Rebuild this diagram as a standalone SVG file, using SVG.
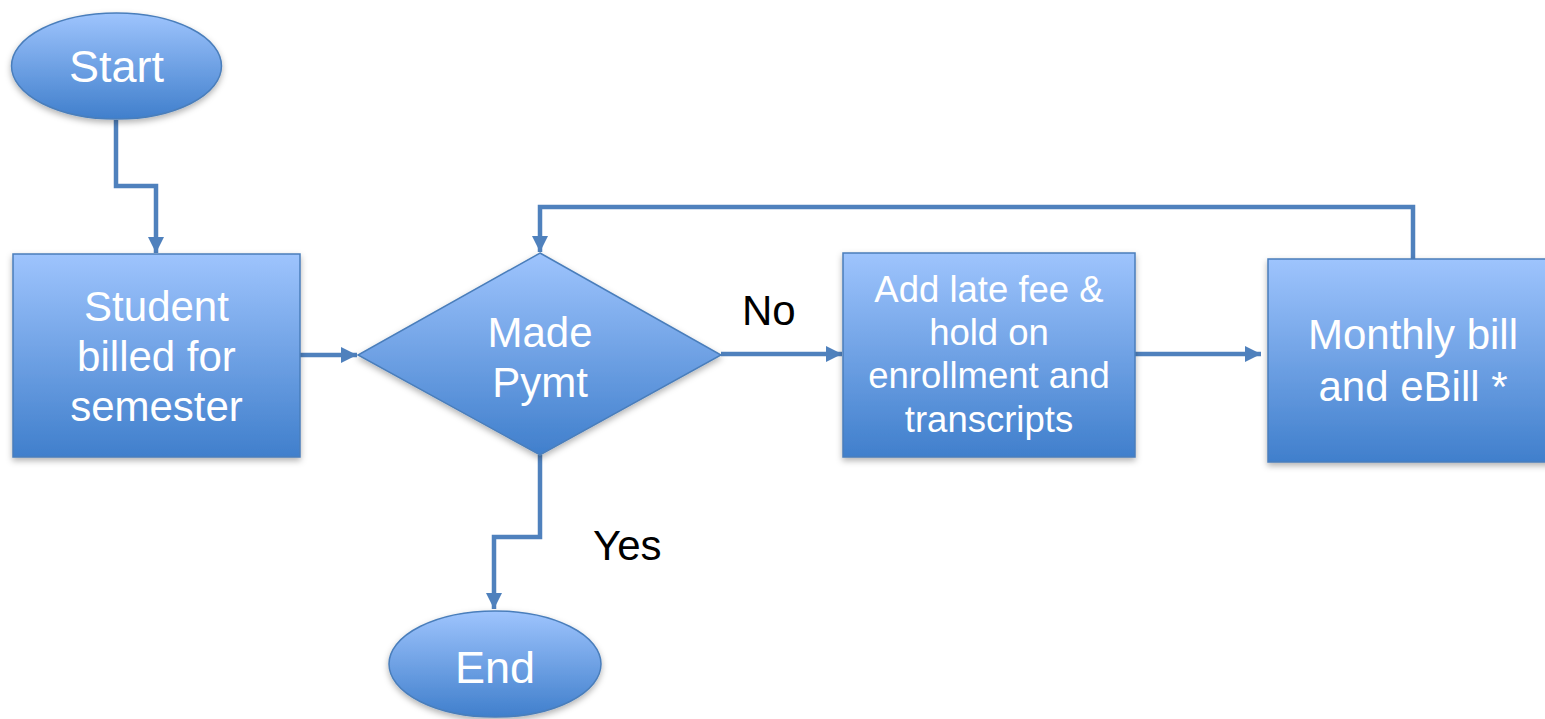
<svg xmlns="http://www.w3.org/2000/svg" width="1545" height="719" viewBox="0 0 1545 719">
<defs>
<linearGradient id="g" x1="0" y1="0" x2="0" y2="1">
<stop offset="0" stop-color="#9EC4FD"/>
<stop offset="1" stop-color="#407FCC"/>
</linearGradient>
<filter id="sh" x="-10%" y="-10%" width="125%" height="130%">
<feDropShadow dx="0" dy="3" stdDeviation="3" flood-color="#000" flood-opacity="0.3"/>
</filter>
<marker id="arr" viewBox="0 0 10 10" refX="10" refY="5" markerWidth="3.6" markerHeight="3.6" orient="auto" markerUnits="strokeWidth">
<path d="M0,0 L10,5 L0,10 Z" fill="#4F81BD"/>
</marker>
<style>
.shape{fill:url(#g);stroke:#4A7EBB;stroke-width:1.5;filter:url(#sh)}
.t{font-family:"Liberation Sans",Arial,sans-serif;fill:#fff;text-anchor:middle}
.lbl{font-family:"Liberation Sans",Arial,sans-serif;fill:#000;font-size:42px}
.c{fill:none;stroke:#4F81BD;stroke-width:4.5;marker-end:url(#arr)}
</style>
</defs>
<g id="connectors">
<path class="c" d="M116,120 V186 H156 V253"/>
<path class="c" d="M300,355 H357"/>
<path class="c" d="M1413,259 V207 H540 V252"/>
<path class="c" d="M721,354 H842"/>
<path class="c" d="M1135,354 H1261"/>
<path class="c" d="M540,455 V537 H494 V609"/>
<text class="lbl" x="742" y="325">No</text>
<text class="lbl" x="593" y="560">Yes</text>
</g>
<g id="start">
<ellipse class="shape" cx="116.5" cy="66" rx="105" ry="53"/>
<text class="t" x="116.5" y="82" font-size="45">Start</text>
</g>
<g id="student">
<rect class="shape" x="13" y="254" width="287" height="203"/>
<text class="t" font-size="42"><tspan x="156.5" y="321">Student</tspan><tspan x="156.5" y="371">billed for</tspan><tspan x="156.5" y="421">semester</tspan></text>
</g>
<g id="decision">
<polygon class="shape" points="540,253 721,355 540,455 358,355"/>
<text class="t" font-size="42"><tspan x="540" y="347">Made</tspan><tspan x="540" y="397">Pymt</tspan></text>
</g>
<g id="latefee">
<rect class="shape" x="843" y="253" width="292" height="204"/>
<text class="t" font-size="36.5"><tspan x="989" y="302">Add late fee &amp;</tspan><tspan x="989" y="345">hold on</tspan><tspan x="989" y="388">enrollment and</tspan><tspan x="989" y="432">transcripts</tspan></text>
</g>
<g id="monthly">
<rect class="shape" x="1268" y="259" width="290" height="203"/>
<text class="t" font-size="42"><tspan x="1413" y="349">Monthly bill</tspan><tspan x="1413" y="401">and eBill *</tspan></text>
</g>
<g id="end">
<ellipse class="shape" cx="495" cy="664" rx="106" ry="53"/>
<text class="t" x="495" y="683" font-size="45">End</text>
</g>
</svg>
